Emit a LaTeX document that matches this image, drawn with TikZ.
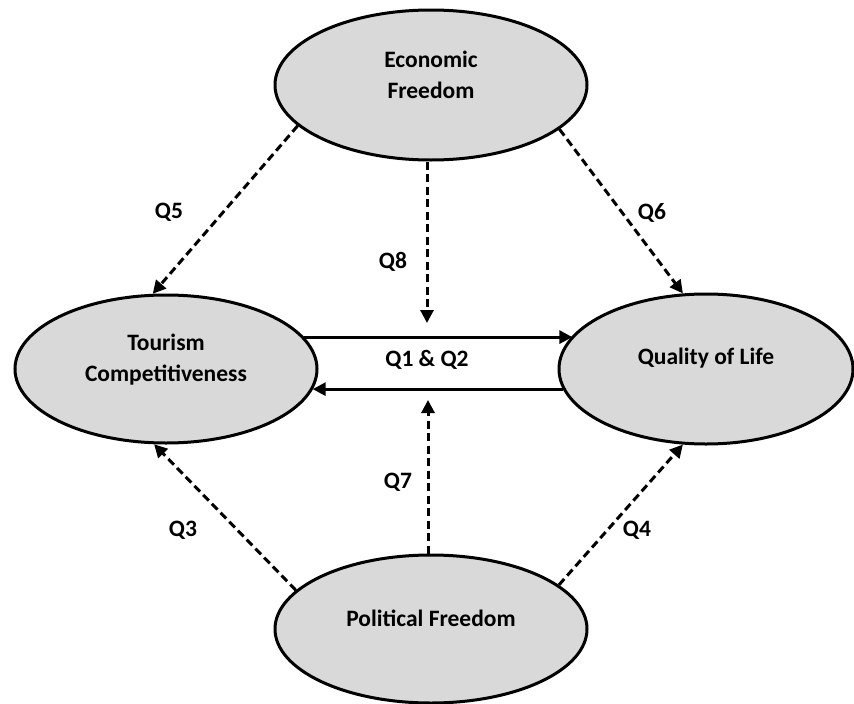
\documentclass[tikz,border=0pt]{standalone}
\usepackage{fontspec}
\setmainfont{Carlito}
\usetikzlibrary{shapes.geometric,arrows.meta}
\definecolor{ellfill}{HTML}{D9D9D9}
\tikzset{
  ell/.style={ellipse, draw=black, line width=3pt, fill=ellfill, inner sep=0pt},
  ttl/.style={font=\fontsize{23.5}{31}\selectfont\bfseries, align=center, text=black},
  lbl/.style={font=\fontsize{23.5}{27}\selectfont\bfseries, text=black, inner sep=0pt},
  tip/.style={-{Triangle[length=13pt,width=13pt]}},
  dashconn/.style={tip, line width=3pt, dash pattern=on 8pt off 4.5pt},
  solidconn/.style={tip, line width=3pt},
}
\begin{document}
\begin{tikzpicture}[x=1pt,y=-1pt]
\useasboundingbox (0,0) rectangle (854,704);
% ellipses
\node[ell, minimum width=312pt, minimum height=150pt,
      label={[ttl, yshift=10pt]center:Economic\\Freedom}] (ef) at (431,85) {};
\node[ell, minimum width=302pt, minimum height=148pt,
      label={[ttl, yshift=9pt]center:Tourism\\Competitiveness}] (tc) at (166,369) {};
\node[ell, minimum width=294pt, minimum height=150pt,
      label={[ttl, yshift=11pt]center:Quality of Life}] (qol) at (706,369) {};
\node[ell, minimum width=312pt, minimum height=148pt,
      label={[ttl, yshift=11pt]center:Political Freedom}] (pf) at (431,629) {};
% solid arrows
\draw[solidconn] (tc.13) -- (tc.13 -| qol.166);
\draw[solidconn] (qol.188) -- (qol.188 -| tc.352);
% moderating arrows
\coordinate (m8) at (427,323);
\coordinate (m7) at (428,400);
\draw[dashconn] (ef.south -| m8) -- (m8);
\draw[dashconn] (pf.north -| m7) -- (m7);
% diagonal arrows
\draw[dashconn] (ef.197.5) -- (tc.100);
\draw[dashconn] (ef.341) -- (qol.107);
\draw[dashconn] (pf.164.8) -- (tc.261);
\draw[dashconn] (pf.19.4) -- (qol.253);
% labels
\node[lbl] (l5) at (169,212) {Q5};
\node[lbl] (l6) at (652,213) {Q6};
\node[lbl] (l8) at (393,262) {Q8};
\node[lbl] (l12) at (427,360) {Q1 \& Q2};
\node[lbl] (l7) at (398,482) {Q7};
\node[lbl] (l3) at (183,530) {Q3};
\node[lbl] (l4) at (637,530) {Q4};
\end{tikzpicture}
\end{document}
